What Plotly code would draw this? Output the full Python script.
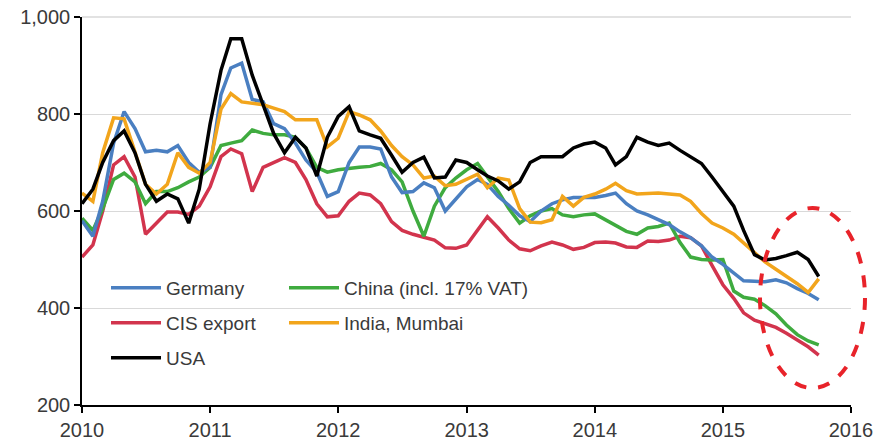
import pandas as pd
import plotly.graph_objects as go

# monthly prices, Jan 2010 - Oct 2015
months = pd.date_range("2010-01-01", periods=70, freq="MS")

germany = [580, 548, 620, 740, 805, 770, 722, 725, 722, 735, 700, 680,
           690, 840, 895, 905, 830, 825, 780, 770, 740, 705, 680, 630,
           640, 700, 732, 732, 728, 670, 638, 640, 658, 648, 600, 625,
           650, 665, 655, 630, 612, 590, 578, 600, 615, 623, 628, 628,
           628, 632, 637, 615, 600, 592, 583, 572, 557, 545, 528, 505,
           490, 472, 456, 455, 454, 458, 452, 440, 430, 417]

cis_export = [505, 530, 600, 695, 712, 670, 552, 575, 598, 598, 593, 610,
              650, 712, 728, 718, 640, 690, 700, 710, 700, 665, 615, 588,
              590, 620, 637, 633, 615, 578, 560, 552, 546, 540, 524, 523,
              530, 560, 588, 565, 540, 522, 518, 528, 536, 530, 521, 525,
              535, 536, 534, 526, 525, 538, 537, 540, 548, 545, 528, 488,
              448, 420, 390, 375, 368, 360, 348, 335, 320, 303]

usa = [615, 645, 700, 745, 765, 720, 655, 620, 635, 625, 575, 645,
       780, 890, 955, 955, 880, 820, 760, 720, 752, 730, 672, 752,
       795, 815, 765, 757, 750, 715, 680, 700, 711, 668, 670, 705,
       700, 685, 672, 662, 645, 660, 700, 712, 712, 712, 730, 738,
       742, 730, 695, 712, 752, 742, 735, 740, 725, 711, 698, 670,
       640, 610, 560, 510, 499, 502, 508, 515, 500, 465]

china = [585, 560, 605, 665, 678, 660, 615, 640, 640, 648, 660, 670,
         690, 735, 740, 745, 767, 760, 757, 757, 752, 730, 690, 680,
         685, 688, 690, 692, 698, 685, 660, 600, 548, 610, 648, 668,
         685, 698, 670, 640, 605, 575, 590, 600, 605, 592, 588, 592,
         594, 582, 570, 558, 552, 565, 568, 575, 535, 505, 500, 499,
         500, 435, 422, 418, 405, 388, 365, 345, 332, 324]

india = [637, 620, 720, 792, 790, 720, 655, 635, 655, 720, 690, 678,
         700, 810, 842, 825, 822, 819, 812, 805, 788, 788, 788, 732,
         750, 805, 798, 788, 765, 735, 712, 695, 668, 672, 652, 655,
         665, 676, 648, 668, 664, 605, 577, 576, 582, 630, 610, 628,
         635, 645, 657, 642, 635, 636, 637, 635, 633, 620, 595, 575,
         565, 552, 534, 512, 495, 480, 466, 450, 432, 460]

y_ticks = [200, 400, 600, 800, 1000]
x_ticks = ["2010", "2011", "2012", "2013", "2014", "2015", "2016"]

W, H = 881, 447
# plot area in pixels: x 82..851, y 17..405 (page margin removed below)
L, T = 82, 17
R, B = W - 851, H - 405
pw, ph = W - L - R, H - T - B


def px_x(p):
    return (p - L) / pw


def px_y(p):
    return (H - B - p) / ph


# draw order back to front; each legend entry gets its own legend box
# (name, values, colour, legend id, legend left px, legend row px)
series = [
    ("CIS export", cis_export, "#d2344d", "legend3", 106, 323),
    ("China (incl. 17% VAT)", china, "#3fab3f", "legend2", 284, 288),
    ("Germany", germany, "#4a7fc1", "legend", 106, 288),
    ("India, Mumbai", india, "#f2a51c", "legend4", 284, 323),
    ("USA", usa, "#000000", "legend5", 106, 358),
]

fig = go.Figure()
legends = {}
leg_font = dict(family="Liberation Sans, Arial, sans-serif", size=19, color="#3a3a3a")
for name, vals, color, lg, lx, ly in series:
    fig.add_trace(go.Scatter(
        x=months, y=vals, name=name, mode="lines",
        line=dict(color=color, width=3.5), legend=lg,
    ))
    legends[lg] = dict(
        x=px_x(lx), y=px_y(ly), xanchor="left", yanchor="middle",
        orientation="h", bgcolor="rgba(0,0,0,0)", itemwidth=50, font=leg_font,
    )

font = dict(family="Liberation Sans, Arial, sans-serif", size=20, color="#3a3a3a")

fig.update_layout(
    width=W, height=H,
    margin=dict(l=L, r=R, t=T, b=B, autoexpand=False),
    paper_bgcolor="white", plot_bgcolor="white",
    font=font,
    showlegend=True,
    **legends,
    xaxis=dict(
        range=["2010-01-01", "2016-01-01"], automargin=False,
        tickvals=[x + "-01-01" for x in x_ticks], ticktext=x_ticks,
        showgrid=False, showline=True, linecolor="black", linewidth=1.5,
        ticks="outside", ticklen=6, tickcolor="black", tickwidth=1.5,
        tickfont=font, ticklabeloverflow="allow",
    ),
    yaxis=dict(
        range=[200, 1000], tickvals=y_ticks, tickformat=",d", automargin=False,
        showgrid=True, gridcolor="#d9d9d9", gridwidth=1,
        showline=True, linecolor="black", linewidth=1.5,
        ticks="outside", ticklen=6, tickcolor="black", tickwidth=1.5,
        tickfont=font, zeroline=False, ticklabeloverflow="allow",
    ),
    shapes=[
        # top gridline (plotly drops the one on the plot edge)
        dict(type="line", xref="paper", yref="paper", x0=0, x1=1,
             y0=1, y1=1, layer="below",
             line=dict(color="#d9d9d9", width=1.5)),
        dict(type="circle", xref="paper", yref="paper",
             x0=px_x(760), x1=px_x(865), y0=px_y(388), y1=px_y(208),
             line=dict(color="#e8232a", width=4, dash="dash")),
    ],
)

fig.write_html("out.html", config={"displayModeBar": False},
               post_script="document.body.style.margin = '0';")
